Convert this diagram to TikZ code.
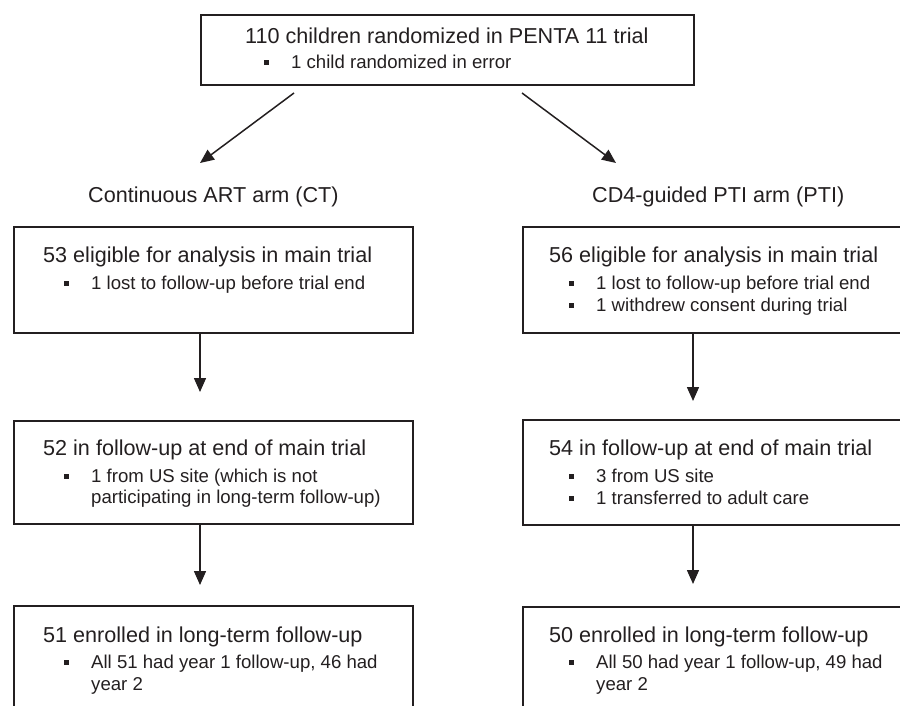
\documentclass[tikz,border=0pt]{standalone}
\usepackage{fontspec}
\setmainfont{Liberation Sans}
\usetikzlibrary{arrows.meta}
\definecolor{ink}{HTML}{231F20}
\begin{document}
\begin{tikzpicture}[x=1pt,y=-1pt,
  box/.style={draw=ink, line width=1.8pt, minimum width=399pt, inner sep=0pt, anchor=north west},
  head/.style={anchor=base west, inner sep=0pt, text=ink, font=\fontsize{21.6}{24}\selectfont},
  item/.style={anchor=base west, inner sep=0pt, text=ink, font=\fontsize{18.6}{22}\selectfont},
  sq/.style={fill=ink, minimum size=5pt, inner sep=0pt},
  arr/.style={draw=ink, line width=1.5pt, -{Triangle[length=14pt,width=12pt]}}]
\useasboundingbox (0,0) rectangle (900,706);
\clip (0,0) rectangle (900,706);

% boxes
\node[box, minimum width=493pt, minimum height=70pt] (T) at (200,14) {};
\node[box, minimum height=106pt] (L1) at (13,226) {};
\node[box, minimum height=103pt] (L2) at (13,420) {};
\node[box, minimum height=140pt] (L3) at (13,605) {};
\node[box, minimum height=106pt] (R1) at (522,226) {};
\node[box, minimum height=105pt] (R2) at (522,419) {};
\node[box, minimum height=140pt] (R3) at (522,606) {};

% top box text
\node[head] (Th) at (245,44) {110 children randomized in PENTA 11 trial};
\node[sq] (Tb) at (266,63) {};
\node[item] (Ti) at (291,69) {1 child randomized in error};

% arm labels
\node[head] (armL) at (88,202) {Continuous ART arm (CT)};
\node[head] (armR) at (592,202) {CD4-guided PTI arm (PTI)};

% left column
\node[head] (L1h) at (43,262) {53 eligible for analysis in main trial};
\node[sq] (L1b) at (66.5,283) {};
\node[item] (L1i) at (91,289) {1 lost to follow-up before trial end};

\node[head] (L2h) at (43,455) {52 in follow-up at end of main trial};
\node[sq] (L2b) at (66.5,476) {};
\node[item] (L2i) at (91,482) {1 from US site (which is not};
\node[item] (L2j) at (91,503) {participating in long-term follow-up)};

\node[head] (L3h) at (43,642) {51 enrolled in long-term follow-up};
\node[sq] (L3b) at (66.5,662) {};
\node[item] (L3i) at (91,668) {All 51 had year 1 follow-up, 46 had};
\node[item] (L3j) at (91,690) {year 2};

% right column
\node[head] (R1h) at (549,262) {56 eligible for analysis in main trial};
\node[sq] (R1b) at (571.5,283) {};
\node[item] (R1i) at (596,289) {1 lost to follow-up before trial end};
\node[sq] (R1c) at (571.5,305) {};
\node[item] (R1j) at (596,311) {1 withdrew consent during trial};

\node[head] (R2h) at (549,455) {54 in follow-up at end of main trial};
\node[sq] (R2b) at (571.5,476) {};
\node[item] (R2i) at (596,482) {3 from US site};
\node[sq] (R2c) at (571.5,498) {};
\node[item] (R2j) at (596,504) {1 transferred to adult care};

\node[head] (R3h) at (549,642) {50 enrolled in long-term follow-up};
\node[sq] (R3b) at (571.5,662) {};
\node[item] (R3i) at (596,668) {All 50 had year 1 follow-up, 49 had};
\node[item] (R3j) at (596,690) {year 2};

% connectors
\coordinate (dLs) at (294,93);
\coordinate (dLe) at (200,163);
\coordinate (dRs) at (522,93);
\coordinate (dRe) at (616,163);
\draw[arr] (dLs) -- (dLe);
\draw[arr] (dRs) -- (dRe);

\coordinate (la1) at (200,392);
\coordinate (la2) at (200,585);
\coordinate (ra1) at (693,401);
\coordinate (ra2) at (693,584);
\draw[arr] (L1.south -| la1) -- (la1);
\draw[arr] (L2.south -| la2) -- (la2);
\draw[arr] (R1.south -| ra1) -- (ra1);
\draw[arr] (R2.south -| ra2) -- (ra2);
\end{tikzpicture}
\end{document}
